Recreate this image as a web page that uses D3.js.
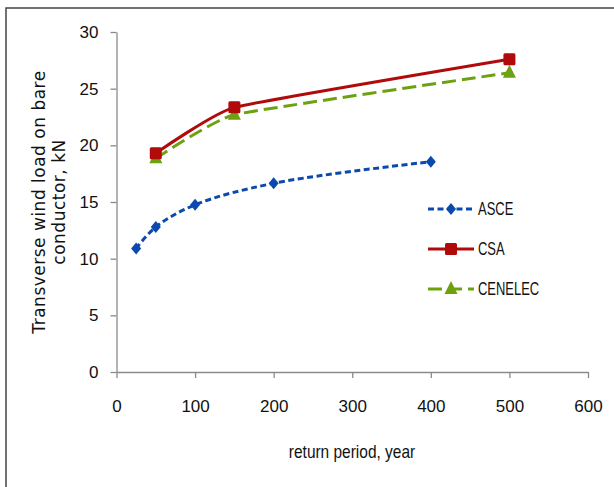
<!DOCTYPE html>
<html><head><meta charset="utf-8">
<script src="https://cdn.jsdelivr.net/npm/d3@7"></script>
<style>body{margin:0;background:#fff}svg{display:block}</style>
</head><body>
<script>
const xTicks = [0,100,200,300,400,500,600];
const yTicks = [0,5,10,15,20,25,30];
const asceX = [25,50,100,200,400];
const asceY = [10.9,12.8,14.75,16.65,18.55];
const csaX = [50,150,500];
const csaY = [19.3,23.35,27.6];
const cenX = [50,150,500];
const cenY = [18.85,22.7,26.4];
const seriesNames = ["ASCE","CSA","CENELEC"];

const W=614,H=487;
const svg=d3.select("body").append("svg").attr("width",W).attr("height",H);
svg.append("rect").attr("x",6).attr("y",8).attr("width",W+10).attr("height",H+10)
  .attr("fill","none").attr("stroke","#444").attr("stroke-width",1.5);

const x=d3.scaleLinear().domain([0,600]).range([116.5,588]);
const y=d3.scaleLinear().domain([0,30]).range([372,32]);
const numFont="'Liberation Sans',Arial,sans-serif";

const gx=svg.append("g").attr("transform","translate(0,372)")
  .call(d3.axisBottom(x).tickValues(xTicks).tickSize(6).tickPadding(22).tickSizeOuter(0));
const gy=svg.append("g").attr("transform","translate(116.5,0)")
  .call(d3.axisLeft(y).tickValues(yTicks).tickSize(6).tickPadding(12).tickSizeOuter(0));
[gx,gy].forEach(g=>{
  g.selectAll("path,line").attr("stroke","#8a8a8a").attr("stroke-width",1.3);
  g.selectAll("text").attr("fill","#111").style("font-family",numFont).style("font-size","17px");
});

const series=[
  {name:seriesNames[0],xs:asceX,ys:asceY,color:"#0a4aae",dash:"6,3.5",marker:"diamond",curve:d3.curveCatmullRom.alpha(0.5)},
  {name:seriesNames[1],xs:csaX,ys:csaY,color:"#b00a0a",dash:null,marker:"square",curve:d3.curveCardinal.tension(0.65)},
  {name:seriesNames[2],xs:cenX,ys:cenY,color:"#6ea10f",dash:"14,6",marker:"triangle",curve:d3.curveCardinal.tension(0.65)}
];
function marker(g,type,color,cx,cy){
  if(type==="diamond") g.append("path").attr("d",`M${cx},${cy-6}L${cx+5},${cy}L${cx},${cy+6}L${cx-5},${cy}Z`).attr("fill",color);
  if(type==="square") g.append("rect").attr("x",cx-6).attr("y",cy-6).attr("width",12).attr("height",12).attr("rx",1.5).attr("fill",color);
  if(type==="triangle") g.append("path").attr("d",`M${cx},${cy-8}L${cx+6.5},${cy+5}L${cx-6.5},${cy+5}Z`).attr("fill",color);
}
[series[2],series[1],series[0]].forEach(s=>{
  const pts=s.xs.map((v,i)=>[v,s.ys[i]]);
  const line=d3.line().x(d=>x(d[0])).y(d=>y(d[1])).curve(s.curve);
  svg.append("path").datum(pts).attr("d",line).attr("fill","none")
    .attr("stroke",s.color).attr("stroke-width",3).attr("stroke-dasharray",s.dash);
  const g=svg.append("g");
  pts.forEach(p=>marker(g,s.marker,s.color,x(p[0]),y(p[1])));
});

const legY=[209,249,289];
series.forEach((s,i)=>{
  const g=svg.append("g");
  g.append("line").attr("x1",428).attr("x2",474).attr("y1",legY[i]).attr("y2",legY[i])
    .attr("stroke",s.color).attr("stroke-width",3).attr("stroke-dasharray",s.dash?(i===0?"6,3.5":"14,6"):null);
  marker(g,s.marker,s.color,451,legY[i]);
  g.append("text").attr("transform",`translate(478,${legY[i]}) scale(0.72,1)`).attr("dy","0.36em").text(s.name)
    .style("font-family",numFont).style("font-size","18px").attr("fill","#111");
});

svg.append("text").attr("transform","translate(352,452) scale(0.86,1)").attr("dy","0.35em").attr("text-anchor","middle")
  .text("return period, year").style("font-family",numFont).style("font-size","18px").attr("fill","#111");

const yt=svg.append("text").attr("transform","translate(0,202) rotate(-90)").attr("text-anchor","middle")
  .style("font-family","'DejaVu Sans',Verdana,sans-serif").style("font-size","17px").style("letter-spacing","0.5px").attr("fill","#111");
yt.append("tspan").attr("x",0).attr("y",45).text("Transverse wind load on bare");
yt.append("tspan").attr("x",0).attr("y",65).text("conductor, kN");
</script>
</body></html>
